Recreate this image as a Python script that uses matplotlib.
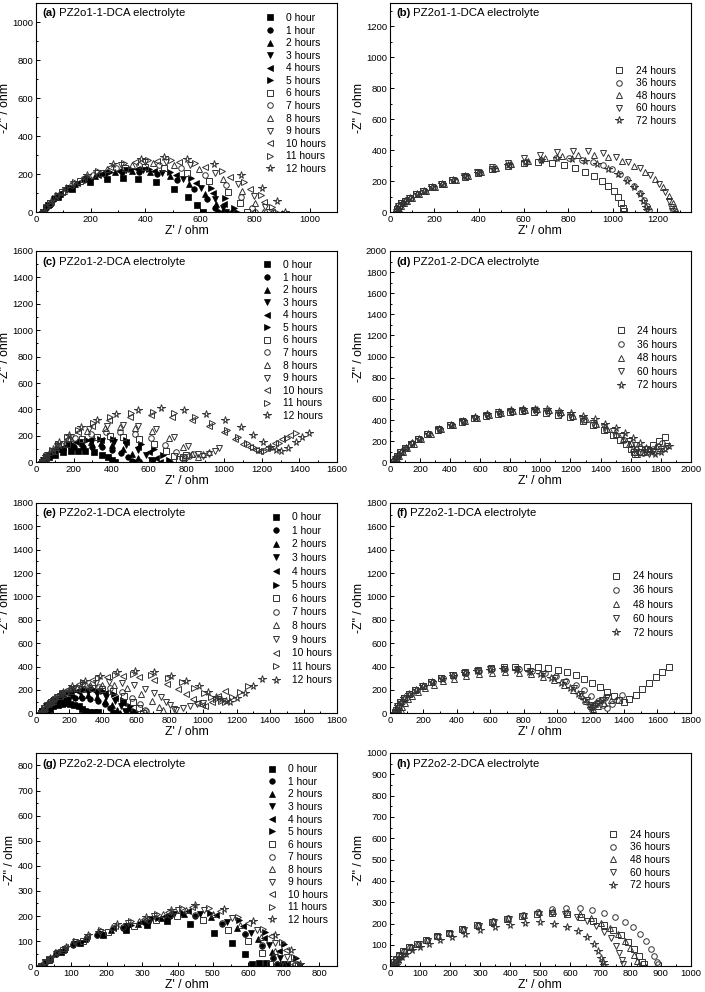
import matplotlib
matplotlib.use("Agg")
import matplotlib.pyplot as plt
from matplotlib.ticker import MultipleLocator

plt.rcParams["font.family"] = ["Liberation Sans", "DejaVu Sans"]

# ---------------- labels / markers ----------------
short_labels = ["0 hour", "1 hour", "2 hours", "3 hours", "4 hours", "5 hours", "6 hours",
                "7 hours", "8 hours", "9 hours", "10 hours", "11 hours", "12 hours"]
long_labels = ["24 hours", "36 hours", "48 hours", "60 hours", "72 hours"]
short_markers = ["s", "o", "^", "v", "<", ">", "s", "o", "^", "v", "<", ">", "*"]
short_filled = [True, True, True, True, True, True, False, False, False, False, False, False, False]
long_markers = ["s", "o", "^", "v", "*"]
long_filled = [False, False, False, False, False]

# ---------------- panel (a) PZ2o1-1-DCA, 0-12 h ----------------
a_zre = [
    [25, 45, 80, 131, 196, 261, 317, 374, 439, 504, 555, 590, 610],
    [25, 35, 65, 112, 175, 247, 314, 376, 443, 515, 578, 625, 655, 665],
    [25, 48, 87, 144, 216, 290, 352, 415, 489, 561, 618, 657, 680],
    [25, 36, 67, 116, 182, 257, 328, 392, 462, 538, 604, 653, 684, 695],
    [25, 49, 89, 150, 225, 302, 368, 433, 510, 585, 646, 686, 710],
    [25, 36, 70, 122, 192, 271, 346, 414, 489, 568, 638, 690, 724, 735],
    [25, 51, 95, 161, 243, 326, 398, 469, 552, 634, 700, 744, 770],
    [25, 37, 74, 130, 207, 294, 375, 450, 531, 618, 695, 751, 788, 800],
    [25, 53, 101, 171, 260, 350, 427, 505, 595, 683, 754, 802, 830],
    [25, 38, 77, 137, 219, 311, 398, 477, 564, 656, 738, 798, 837, 850],
    [25, 54, 104, 177, 269, 363, 443, 524, 618, 710, 783, 833, 862],
    [25, 39, 79, 141, 225, 321, 411, 492, 582, 678, 762, 824, 864, 878],
    [25, 56, 108, 186, 283, 383, 468, 552, 652, 749, 827, 879, 910],
]
a_zim = [
    [3, 36, 79, 123, 157, 175, 180, 175, 157, 123, 79, 36, 4],
    [3, 22, 70, 122, 169, 200, 213, 213, 200, 169, 122, 70, 22, 4],
    [3, 43, 96, 149, 190, 212, 218, 212, 190, 149, 96, 43, 4],
    [3, 22, 72, 126, 175, 207, 220, 220, 207, 175, 126, 72, 22, 4],
    [3, 45, 99, 153, 196, 219, 225, 219, 196, 153, 99, 45, 4],
    [3, 23, 74, 130, 179, 212, 226, 226, 212, 179, 130, 74, 23, 4],
    [3, 48, 106, 164, 209, 234, 240, 234, 209, 164, 106, 48, 4],
    [3, 25, 81, 142, 197, 233, 248, 248, 233, 197, 142, 81, 25, 4],
    [3, 51, 114, 176, 225, 251, 258, 251, 225, 176, 114, 51, 4],
    [3, 27, 86, 151, 209, 247, 263, 263, 247, 209, 151, 86, 27, 4],
    [3, 54, 120, 186, 237, 265, 272, 265, 237, 186, 120, 54, 4],
    [3, 28, 90, 158, 219, 259, 276, 276, 259, 219, 158, 90, 28, 4],
    [3, 57, 128, 198, 253, 282, 290, 282, 253, 198, 128, 57, 4],
]

# ---------------- panel (b) PZ2o1-1-DCA, 24-72 h ----------------
b_zre = [
    [30, 33, 40, 52, 68, 90, 118, 150, 188, 232, 280, 335, 395, 460, 530, 600, 665, 725, 780, 830,
     875, 915, 950, 980, 1005, 1025, 1038, 1046, 1050],
    [35, 38, 45, 57, 74, 96, 124, 157, 196, 240, 290, 345, 405, 470, 540, 610, 680, 745, 805, 860,
     910, 955, 995, 1030, 1065, 1095, 1120, 1140, 1152, 1160],
    [40, 43, 50, 62, 79, 101, 129, 162, 201, 245, 295, 350, 410, 475, 545, 620, 695, 770, 845, 915,
     980, 1040, 1095, 1145, 1190, 1225, 1252, 1268, 1277, 1282],
    [28, 31, 38, 50, 66, 88, 116, 148, 186, 230, 278, 333, 393, 458, 528, 600, 675, 750, 820, 890,
     955, 1015, 1070, 1120, 1165, 1205, 1235, 1252, 1262, 1266],
    [32, 35, 42, 54, 70, 92, 120, 152, 190, 234, 282, 337, 397, 462, 532, 605, 680, 750, 815, 875,
     930, 980, 1025, 1062, 1095, 1120, 1137, 1147, 1152],
]
b_zim = [
    [4, 22, 40, 58, 76, 95, 116, 138, 160, 184, 207, 230, 254, 278, 300, 315, 322, 318, 305, 285,
     262, 235, 205, 172, 135, 98, 62, 30, 10],
    [4, 22, 40, 58, 76, 95, 116, 138, 160, 184, 208, 232, 257, 282, 305, 325, 340, 348, 348, 340,
     325, 305, 280, 250, 212, 170, 125, 80, 40, 12],
    [5, 22, 40, 58, 76, 95, 116, 138, 160, 184, 208, 232, 258, 284, 310, 333, 352, 365, 372, 368,
     355, 332, 300, 260, 212, 160, 108, 60, 25, 10],
    [4, 22, 40, 58, 76, 95, 116, 138, 160, 184, 208, 233, 260, 290, 320, 348, 372, 390, 398, 395,
     382, 358, 325, 285, 238, 185, 130, 75, 32, 10],
    [4, 22, 40, 58, 76, 95, 116, 138, 160, 184, 208, 232, 256, 280, 305, 325, 340, 347, 345, 332,
     310, 280, 245, 205, 160, 115, 72, 35, 12],
]

# ---------------- panel (c) PZ2o1-2-DCA, 0-12 h ----------------
c_zre = [
    [30, 44, 67, 101, 144, 188, 225, 262, 306, 349, 383, 406, 420],
    [30, 38, 61, 97, 145, 200, 251, 299, 350, 405, 453, 489, 512, 520],
    [30, 49, 80, 126, 185, 244, 295, 346, 405, 464, 510, 541, 560],
    [30, 39, 67, 110, 169, 235, 297, 353, 415, 481, 540, 583, 611, 620],
    [30, 52, 89, 145, 214, 285, 345, 405, 476, 545, 601, 638, 660],
    [30, 41, 73, 124, 192, 269, 342, 408, 481, 558, 626, 677, 709, 720],
    [30, 56, 99, 163, 243, 325, 395, 465, 547, 627, 691, 734, 760, 780, 800],
    [30, 42, 78, 133, 209, 294, 374, 447, 526, 611, 687, 742, 778, 790, 815, 835],
    [30, 59, 108, 181, 272, 365, 445, 525, 618, 709, 782, 831, 860, 890, 920],
    [30, 60, 111, 187, 281, 377, 460, 543, 639, 733, 809, 860, 890, 920, 950, 975],
    [30, 53, 83, 117, 163, 223, 298, 390, 499, 610, 721, 830, 922, 997, 1057, 1103, 1137, 1167, 1190,
     1230, 1270, 1310, 1350],
    [30, 54, 84, 119, 166, 226, 303, 396, 507, 620, 733, 844, 937, 1014, 1074, 1122, 1156, 1186, 1210,
     1250, 1290, 1335, 1380],
    [30, 55, 88, 125, 176, 241, 323, 424, 543, 665, 787, 906, 1007, 1089, 1154, 1205, 1242, 1275, 1300,
     1340, 1380, 1415, 1450],
]
c_zim = [
    [2, 17, 37, 58, 74, 83, 85, 83, 74, 58, 37, 17, 3],
    [2, 12, 39, 68, 94, 112, 119, 119, 112, 94, 68, 39, 12, 3],
    [2, 30, 66, 102, 131, 146, 150, 146, 131, 102, 66, 30, 3],
    [2, 17, 53, 94, 130, 154, 164, 164, 154, 130, 94, 53, 17, 3],
    [2, 34, 76, 117, 150, 167, 172, 167, 150, 117, 76, 34, 3],
    [2, 18, 58, 101, 140, 166, 177, 177, 166, 140, 101, 58, 18, 3],
    [2, 40, 88, 136, 174, 195, 200, 195, 174, 136, 88, 45, 25, 38, 52],
    [2, 23, 75, 131, 181, 214, 228, 228, 214, 181, 131, 75, 35, 30, 50, 65],
    [2, 53, 119, 184, 235, 263, 270, 263, 235, 184, 119, 60, 40, 60, 80],
    [2, 56, 125, 194, 249, 277, 285, 277, 249, 194, 125, 65, 45, 60, 85, 105],
    [2, 43, 88, 132, 180, 229, 277, 317, 345, 355, 345, 317, 277, 229, 180, 140, 112, 95, 85,
     110, 145, 175, 205],
    [2, 46, 95, 141, 192, 245, 296, 340, 370, 380, 370, 340, 296, 245, 192, 148, 115, 95, 85,
     110, 145, 185, 220],
    [2, 49, 102, 152, 207, 264, 319, 367, 399, 410, 399, 367, 319, 264, 207, 155, 118, 95, 85,
     110, 150, 190, 225],
]

# ---------------- panel (d) PZ2o1-2-DCA, 24-72 h ----------------
d_zre = [
    [30, 38, 50, 70, 100, 140, 190, 250, 320, 400, 480, 560, 640, 720, 800, 880, 960, 1040, 1120, 1200,
     1280, 1350, 1420, 1480, 1530, 1570, 1600, 1620, 1630, 1670, 1710, 1750, 1790, 1830],
    [35, 43, 56, 78, 110, 150, 200, 262, 332, 412, 492, 572, 652, 732, 812, 892, 972, 1052, 1132, 1212,
     1290, 1365, 1435, 1500, 1555, 1600, 1635, 1660, 1680, 1715, 1750, 1780, 1805],
    [40, 48, 62, 84, 116, 158, 208, 270, 340, 420, 500, 580, 660, 740, 820, 900, 980, 1060, 1140, 1220,
     1300, 1370, 1440, 1500, 1550, 1590, 1615, 1632, 1645, 1690, 1730, 1770],
    [28, 36, 48, 68, 98, 138, 188, 248, 318, 398, 478, 558, 638, 718, 798, 878, 958, 1038, 1118, 1198,
     1278, 1350, 1420, 1485, 1540, 1590, 1630, 1665, 1695, 1720, 1760, 1800, 1840],
    [32, 40, 53, 74, 104, 144, 194, 254, 324, 404, 484, 564, 644, 724, 804, 884, 964, 1044, 1124, 1204,
     1284, 1360, 1430, 1500, 1560, 1615, 1660, 1700, 1735, 1760, 1800, 1830, 1855],
]
d_zim = [
    [5, 30, 60, 95, 135, 175, 220, 265, 310, 350, 385, 415, 440, 460, 475, 482, 480, 470, 452, 425,
     390, 350, 305, 260, 215, 170, 130, 95, 80, 95, 125, 160, 200, 240],
    [5, 32, 62, 98, 138, 178, 222, 268, 312, 352, 388, 420, 446, 466, 480, 488, 487, 477, 458, 430,
     395, 355, 310, 262, 215, 170, 130, 100, 85, 105, 130, 155, 180],
    [5, 30, 60, 96, 136, 176, 222, 266, 312, 352, 388, 420, 448, 470, 488, 498, 500, 492, 472, 442,
     405, 365, 318, 270, 220, 175, 135, 100, 82, 100, 125, 150],
    [5, 30, 60, 95, 135, 176, 222, 268, 312, 352, 390, 422, 450, 472, 488, 496, 496, 488, 470, 445,
     412, 375, 335, 292, 248, 205, 165, 125, 95, 80, 100, 125, 150],
    [5, 31, 61, 97, 137, 178, 224, 270, 315, 356, 392, 425, 453, 476, 494, 505, 508, 503, 490, 468,
     440, 405, 365, 320, 275, 228, 182, 138, 100, 78, 100, 125, 150],
]

# ---------------- panel (e) PZ2o2-1-DCA, 0-12 h ----------------
e_zre = [
    [60, 68, 83, 104, 130, 157, 180, 203, 230, 256, 277, 292, 300, 320, 345, 370],
    [40, 47, 67, 98, 141, 189, 234, 276, 321, 369, 412, 443, 463, 470],
    [35, 51, 79, 120, 171, 223, 268, 312, 364, 415, 456, 484, 500],
    [30, 38, 62, 99, 150, 207, 261, 310, 363, 420, 471, 508, 532, 540],
    [30, 49, 81, 128, 188, 248, 300, 352, 412, 472, 519, 551, 570],
    [30, 39, 66, 108, 164, 228, 288, 342, 402, 466, 522, 564, 591, 600],
    [30, 51, 87, 141, 208, 276, 335, 394, 462, 529, 583, 619, 640],
    [30, 40, 70, 116, 178, 249, 315, 375, 441, 512, 574, 620, 650, 660],
    [30, 56, 99, 163, 243, 325, 395, 465, 547, 627, 691, 734, 760],
    [30, 46, 67, 91, 123, 164, 217, 281, 357, 435, 513, 589, 653, 706, 747, 779, 803, 824, 840,
     880, 920, 960, 1000],
    [30, 50, 75, 104, 143, 193, 256, 334, 426, 520, 614, 706, 784, 847, 897, 937, 965, 990, 1010,
     1050, 1090, 1130],
    [30, 52, 81, 113, 157, 213, 284, 371, 474, 580, 686, 789, 876, 947, 1004, 1048, 1079, 1108, 1130,
     1170, 1220, 1270],
    [30, 53, 82, 115, 160, 218, 291, 380, 487, 595, 704, 810, 899, 972, 1030, 1075, 1108, 1137, 1160,
     1200, 1250, 1300, 1350],
]
e_zim = [
    [2, 17, 37, 58, 74, 83, 85, 83, 74, 58, 37, 17, 8, 8, 8, 8],
    [2, 14, 44, 77, 106, 126, 134, 134, 126, 106, 77, 44, 14, 3],
    [2, 32, 70, 109, 140, 156, 160, 156, 140, 109, 70, 32, 3],
    [2, 18, 58, 102, 142, 168, 179, 179, 168, 142, 102, 58, 18, 3],
    [2, 39, 86, 133, 170, 190, 195, 190, 170, 133, 86, 39, 3],
    [2, 21, 66, 116, 161, 191, 204, 204, 191, 161, 116, 66, 21, 3],
    [2, 43, 95, 147, 187, 209, 215, 209, 187, 147, 95, 43, 5],
    [2, 23, 75, 131, 181, 214, 228, 228, 214, 181, 131, 75, 30, 20],
    [2, 49, 108, 167, 214, 238, 245, 238, 214, 167, 108, 55, 30],
    [2, 32, 67, 100, 137, 174, 210, 241, 263, 270, 263, 241, 210, 174, 137, 100, 67, 40, 30,
     45, 60, 75, 90],
    [2, 38, 80, 119, 162, 206, 249, 286, 311, 320, 311, 286, 249, 206, 162, 119, 90, 70, 60,
     100, 145, 190],
    [2, 41, 85, 126, 172, 219, 265, 304, 331, 340, 331, 304, 265, 219, 175, 140, 118, 105, 100,
     135, 180, 230],
    [2, 43, 90, 134, 182, 232, 280, 322, 350, 360, 350, 322, 280, 232, 182, 142, 118, 105, 100,
     130, 175, 230, 290],
]

# ---------------- panel (f) PZ2o2-1-DCA, 24-72 h ----------------
f_zre = [
    [30, 36, 46, 62, 85, 115, 152, 196, 248, 308, 375, 448, 525, 605, 680, 750, 820, 885, 945, 1005,
     1060, 1110, 1160, 1210, 1255, 1300, 1340, 1372, 1400, 1430, 1470, 1510, 1550, 1590, 1630, 1670],
    [40, 46, 56, 72, 95, 125, 162, 206, 258, 318, 385, 455, 530, 610, 690, 770, 850, 925, 995, 1055,
     1110, 1160, 1205, 1245, 1275, 1300, 1330, 1360, 1390],
    [60, 65, 74, 88, 108, 135, 170, 212, 262, 320, 385, 455, 530, 610, 690, 770, 845, 915, 980, 1040,
     1095, 1140, 1175, 1200, 1215, 1245, 1280, 1320],
    [28, 34, 44, 60, 83, 113, 150, 194, 246, 306, 372, 445, 520, 600, 680, 760, 840, 915, 985, 1045,
     1100, 1145, 1180, 1200, 1212, 1240, 1270, 1300],
    [32, 38, 48, 64, 87, 117, 154, 198, 250, 310, 376, 448, 522, 600, 678, 755, 830, 900, 965, 1025,
     1080, 1125, 1162, 1190, 1205, 1230, 1255, 1280],
]
f_zim = [
    [5, 30, 60, 95, 130, 165, 200, 235, 268, 298, 325, 350, 370, 385, 395, 400, 400, 395, 385, 370,
     350, 325, 295, 262, 225, 185, 148, 115, 100, 120, 160, 210, 260, 310, 355, 400],
    [5, 30, 60, 95, 130, 165, 200, 235, 268, 298, 325, 348, 365, 377, 382, 378, 365, 345, 315, 280,
     240, 195, 150, 105, 70, 45, 75, 115, 160],
    [5, 28, 55, 85, 118, 150, 183, 215, 245, 272, 297, 318, 335, 347, 352, 348, 335, 312, 282, 245,
     200, 152, 105, 65, 40, 65, 90, 110],
    [5, 30, 60, 95, 130, 165, 200, 235, 268, 298, 325, 348, 365, 377, 382, 378, 362, 338, 305, 265,
     218, 168, 115, 72, 45, 80, 115, 140],
    [5, 30, 60, 95, 130, 165, 200, 235, 268, 297, 323, 345, 362, 372, 375, 370, 356, 332, 300, 260,
     215, 165, 115, 72, 48, 75, 105, 130],
]

# ---------------- panel (g) PZ2o2-2-DCA, 0-12 h ----------------
g_zre = [
    [15, 36, 71, 123, 189, 255, 313, 370, 436, 502, 554, 589, 610, 630, 650],
    [15, 26, 57, 105, 171, 246, 316, 379, 449, 524, 590, 638, 669, 680],
    [15, 39, 78, 138, 212, 288, 352, 417, 493, 567, 627, 666, 690],
    [15, 26, 58, 108, 176, 253, 325, 390, 462, 539, 607, 657, 689, 700],
    [15, 39, 80, 142, 218, 296, 363, 429, 507, 584, 645, 686, 710],
    [15, 27, 61, 114, 187, 268, 345, 415, 492, 573, 646, 699, 733, 745],
    [15, 38, 76, 132, 203, 276, 338, 399, 472, 543, 599, 637, 660],
    [15, 26, 57, 105, 171, 246, 316, 379, 449, 524, 590, 638, 669, 680],
    [15, 39, 79, 140, 215, 292, 358, 423, 500, 575, 636, 676, 700],
    [15, 26, 59, 111, 181, 260, 334, 401, 475, 554, 624, 676, 709, 720],
    [15, 40, 82, 145, 224, 304, 373, 441, 521, 600, 663, 705, 730],
    [15, 27, 61, 114, 185, 267, 343, 412, 488, 570, 641, 694, 728, 740],
    [15, 41, 84, 148, 228, 310, 380, 450, 532, 612, 676, 719, 745],
]
g_zim = [
    [2, 25, 58, 92, 124, 146, 166, 180, 167, 131, 92, 49, 10, 12, 12],
    [2, 14, 47, 86, 123, 154, 178, 199, 199, 170, 127, 82, 31, 8],
    [2, 29, 67, 107, 145, 170, 193, 210, 195, 153, 107, 57, 8],
    [2, 15, 49, 90, 129, 161, 187, 209, 209, 178, 133, 86, 32, 9],
    [2, 31, 70, 112, 152, 178, 202, 220, 205, 161, 112, 59, 9],
    [2, 15, 51, 92, 132, 165, 191, 213, 213, 183, 136, 88, 33, 9],
    [2, 28, 64, 102, 138, 162, 184, 200, 186, 146, 102, 54, 8],
    [2, 15, 48, 88, 126, 158, 183, 204, 204, 174, 130, 84, 32, 8],
    [2, 32, 72, 115, 155, 182, 207, 225, 209, 164, 115, 61, 9],
    [2, 16, 53, 97, 138, 173, 200, 223, 223, 191, 143, 92, 35, 9],
    [2, 33, 75, 120, 162, 190, 216, 235, 219, 172, 120, 63, 9],
    [2, 17, 55, 100, 143, 179, 207, 231, 231, 198, 148, 95, 36, 9],
    [2, 34, 78, 125, 169, 198, 225, 245, 228, 179, 125, 66, 10],
]

# ---------------- panel (h) PZ2o2-2-DCA, 24-72 h ----------------
h_zre = [
    [10, 14, 20, 30, 45, 65, 90, 120, 155, 195, 240, 290, 340, 390, 440, 490, 540, 590, 635, 675,
     710, 740, 768, 792, 812, 828, 838, 845],
    [12, 16, 22, 32, 47, 67, 92, 122, 157, 197, 242, 292, 342, 392, 442, 492, 540, 585, 630, 672,
     712, 748, 780, 808, 832, 852, 867, 878, 886, 890],
    [14, 18, 24, 34, 49, 69, 94, 124, 159, 199, 244, 294, 344, 394, 444, 494, 542, 588, 630, 668,
     702, 732, 758, 780, 798, 812, 822, 828],
    [16, 20, 26, 36, 51, 71, 96, 126, 161, 201, 246, 296, 346, 396, 446, 494, 540, 582, 620, 655,
     686, 712, 734, 750, 762, 770, 775],
    [20, 24, 30, 40, 55, 75, 100, 130, 165, 205, 250, 300, 350, 400, 450, 500, 545, 588, 625, 655,
     678, 693, 702, 708, 712],
]
h_zim = [
    [4, 20, 35, 52, 70, 88, 106, 123, 140, 157, 174, 192, 208, 222, 235, 245, 250, 245, 230, 212,
     192, 170, 145, 115, 82, 50, 22, 10],
    [4, 20, 35, 52, 70, 88, 106, 123, 140, 157, 175, 193, 210, 226, 240, 255, 268, 275, 272, 262,
     248, 230, 208, 182, 152, 118, 82, 48, 20, 10],
    [4, 20, 35, 52, 70, 88, 106, 123, 140, 157, 175, 193, 210, 226, 240, 252, 258, 255, 243, 225,
     203, 178, 150, 118, 85, 52, 25, 10],
    [4, 18, 33, 50, 67, 85, 102, 119, 136, 153, 171, 189, 206, 222, 236, 246, 250, 245, 232, 213,
     190, 162, 130, 95, 60, 28, 10],
    [4, 16, 29, 44, 59, 75, 91, 106, 121, 137, 153, 169, 183, 195, 203, 205, 198, 185, 165, 138,
     105, 70, 40, 18, 8],
]

# ---------------- panel setup ----------------
panels = [
    ("(a)", " PZ2o1-1-DCA electrolyte", a_zre, a_zim, "short", 1100, 200),
    ("(b)", " PZ2o1-1-DCA electrolyte", b_zre, b_zim, "long", 1350, 200),
    ("(c)", " PZ2o1-2-DCA electrolyte", c_zre, c_zim, "short", 1600, 200),
    ("(d)", " PZ2o1-2-DCA electrolyte", d_zre, d_zim, "long", 2000, 200),
    ("(e)", " PZ2o2-1-DCA electrolyte", e_zre, e_zim, "short", 1800, 200),
    ("(f)", " PZ2o2-1-DCA electrolyte", f_zre, f_zim, "long", 1800, 200),
    ("(g)", " PZ2o2-2-DCA electrolyte", g_zre, g_zim, "short", 850, 100),
    ("(h)", " PZ2o2-2-DCA electrolyte", h_zre, h_zim, "long", 1000, 100),
]

fig = plt.figure(figsize=(7.05, 9.92), dpi=100)
lefts = [0.051, 0.553]
width = 0.427
rows = [(0.786, 0.211), (0.534, 0.213), (0.281, 0.212), (0.026, 0.215)]
legend_anchor = [(0.965, 0.952), (0.95, 0.70), (0.955, 0.957), (0.955, 0.645),
                 (0.985, 0.956), (0.94, 0.675), (0.97, 0.947), (0.93, 0.64)]
legend_spacing = [0.25, 0.25, 0.25, 0.35, 0.35, 0.4, 0.25, 0.26]

for i, (tag, name, zre, zim, kind, lim, step) in enumerate(panels):
    r, c = divmod(i, 2)
    b, h = rows[r]
    ax = fig.add_axes([lefts[c], b, width, h])
    if kind == "short":
        labels, markers, filled = short_labels, short_markers, short_filled
    else:
        labels, markers, filled = long_labels, long_markers, long_filled
    for x, y, lab, m, f in zip(zre, zim, labels, markers, filled):
        ms = 5.4 if m == "*" else 4.0
        if f:
            ax.plot(x, y, ls="none", marker=m, ms=ms, mfc="black", mec="black", mew=0.5, label=lab)
        else:
            ax.plot(x, y, ls="none", marker=m, ms=ms, mfc="none", mec="#333333", mew=0.7, label=lab)
    ax.set_xlim(0, lim)
    ax.set_ylim(0, lim)
    ax.xaxis.set_major_locator(MultipleLocator(step))
    ax.yaxis.set_major_locator(MultipleLocator(step))
    ax.xaxis.set_minor_locator(MultipleLocator(step / 2))
    ax.yaxis.set_minor_locator(MultipleLocator(step / 2))
    ax.tick_params(which="both", direction="in", top=False, right=False, labelsize=6.8, pad=2,
                   width=0.7)
    ax.tick_params(which="major", length=3)
    ax.tick_params(which="minor", length=1.6)
    for s in ax.spines.values():
        s.set_linewidth(0.8)
    ax.set_xlabel("Z' / ohm", fontsize=8.8, labelpad=1)
    ax.set_ylabel("-Z'' / ohm", fontsize=8.8, labelpad=1)
    t = ax.text(0.02, 0.95, tag, transform=ax.transAxes, fontsize=8.2, fontweight="bold",
                va="center", ha="left")
    ax.annotate(name, xy=(1, 0.5), xycoords=t, fontsize=8.2, va="center", ha="left")
    ax.legend(loc="upper right", bbox_to_anchor=legend_anchor[i], frameon=False, fontsize=7.4,
              labelspacing=legend_spacing[i], handletextpad=1.1, handlelength=1.0,
              borderaxespad=0, borderpad=0, numpoints=1)

fig.savefig("out.png", dpi=100)
